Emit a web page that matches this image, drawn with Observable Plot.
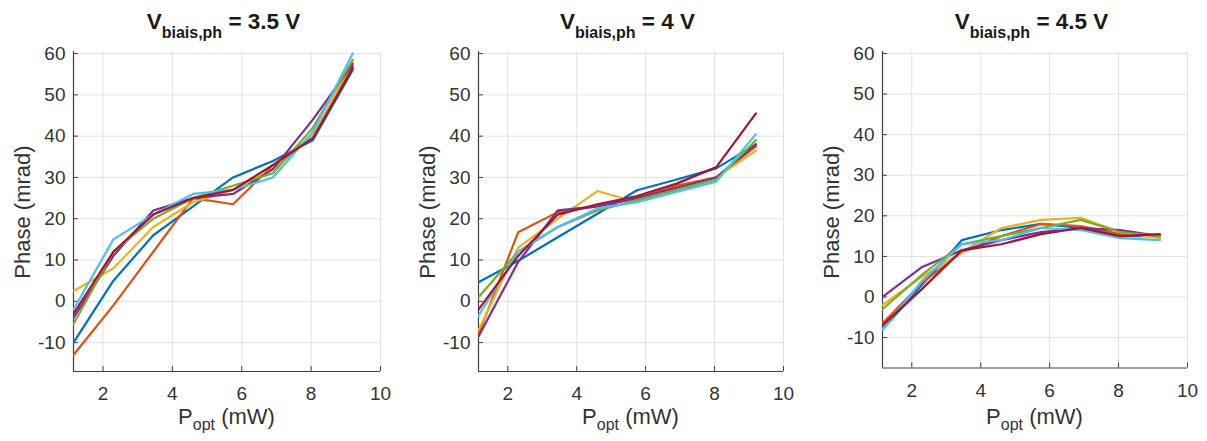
<!DOCTYPE html>
<html>
<head>
<meta charset="utf-8">
<script src="https://cdn.jsdelivr.net/npm/d3@7"></script>
<script src="https://cdn.jsdelivr.net/npm/@observablehq/plot@0.6"></script>
<style>
  html, body { margin: 0; padding: 0; background: #fff; }
  #root { position: relative; width: 1207px; height: 441px; overflow: hidden; font-family: "Liberation Sans", Arial, sans-serif; color: #262626; }
  .panel { position: absolute; top: 0; }
  .title { position: absolute; font-weight: bold; font-size: 22.5px; white-space: nowrap; color: #1a1a1a; transform: translateX(-50%); }
  .title sub { font-size: 16px; vertical-align: -9px; line-height: 0; }
  .ylab { position: absolute; font-size: 22px; white-space: nowrap; color: #333; transform: translate(-50%, -50%) rotate(-90deg); }
  .xlab { position: absolute; font-size: 22px; line-height: 24px; white-space: nowrap; color: #333; transform: translateX(-50%); }
  .xlab sub { font-size: 16px; vertical-align: -6px; line-height: 0; }
</style>
</head>
<body>
<div id="root"></div>
<script>
// ---- data ----
const powerMW = [1.15, 2.3, 3.45, 4.6, 5.75, 6.9, 8.05, 9.2];
const seriesColors = ["#0072BD", "#D95319", "#EDB120", "#7E2F8E", "#77AC30", "#4DBEEE", "#A2142F"];
const panelTitles = ["3.5 V", "4 V", "4.5 V"];
const xTicks = [2, 4, 6, 8, 10];
const yTicks = [-10, 0, 10, 20, 30, 40, 50, 60];

const phase35 = [
  [-10, 5, 16, 23, 30, 34, 39, 56],
  [-13, -1, 12, 25, 23.5, 33, 40, 57],
  [2.5, 8, 18, 24, 27, 32, 40, 58],
  [-4, 11, 22, 25, 26, 32, 44, 57.5],
  [-5.5, 12, 20, 25, 28, 31, 42, 58.5],
  [-2, 15, 21, 26, 27, 30, 41, 60],
  [-3, 12, 21, 25, 27, 33, 39.5, 56.5]
];
const phase40 = [
  [4.6, 9.8, 15.5, 21.2, 26.9, 29.5, 32.2, 38],
  [-8, 16.7, 21.6, 23, 25, 28, 30, 37.5],
  [-7, 13, 20, 26.7, 24, 27.5, 30, 36.5],
  [-8.5, 9.5, 22, 23, 25, 27.5, 30, 38],
  [1, 12, 18, 22, 24.5, 27, 29.5, 39],
  [-3.5, 12, 18, 22.5, 24, 26.5, 29, 40.5],
  [-2, 11, 21, 23.5, 25.5, 28.5, 32.5, 45.5]
];
const phase45 = [
  [-8, 3, 14, 16.5, 18, 17, 15, 15],
  [-6.5, 3.5, 11, 15, 18, 17.5, 15.5, 15],
  [-2, 5, 11, 17, 19, 19.5, 16, 14.5],
  [0, 7.4, 11.5, 14, 16, 17, 16.5, 15],
  [-3, 5.5, 13, 15, 17, 19, 16, 15],
  [-8, 4, 13, 14, 17, 16.5, 14.5, 14],
  [-7, 2, 11.5, 13, 15.5, 17, 15, 15.5]
];

// ---- layout per panel ----
const panels = [
  {data: phase35, left: 0, width: 400, ml: 73, mr: 20, mt: 51, mb: 70, yDomain: [-17, 60.5]},
  {data: phase40, left: 400, width: 400, ml: 78, mr: 17, mt: 51, mb: 70, yDomain: [-17, 60.5]},
  {data: phase45, left: 800, width: 407, ml: 82, mr: 20, mt: 51, mb: 73.5, yDomain: [-17.5, 60.5]}
];

const root = document.getElementById("root");
const fmt = d => String(d);

panels.forEach((p, k) => {
  const rows = [];
  p.data.forEach((vals, s) => vals.forEach((v, j) => rows.push({x: powerMW[j], y: v, s})));
  const xDomain = [powerMW[0], 10];
  const chart = Plot.plot({
    width: p.width,
    height: 441,
    marginLeft: p.ml,
    marginRight: p.mr,
    marginTop: p.mt,
    marginBottom: p.mb,
    style: {fontSize: "19px", fontFamily: "Liberation Sans, Arial, sans-serif", color: "#333", background: "transparent", overflow: "visible"},
    x: {domain: xDomain},
    y: {domain: p.yDomain},
    color: {domain: d3.range(seriesColors.length), range: seriesColors},
    marks: [
      Plot.gridX(xTicks, {stroke: "#e2e2e2", strokeOpacity: 1, strokeWidth: 1}),
      Plot.gridY(yTicks, {stroke: "#e2e2e2", strokeOpacity: 1, strokeWidth: 1}),
      Plot.axisX(xTicks, {tickSize: -5, tickPadding: 20, tickFormat: fmt, label: null, stroke: "#404040", fill: "#333"}),
      Plot.axisY(yTicks, {tickSize: -5, tickPadding: 13, tickFormat: fmt, label: null, stroke: "#404040", fill: "#333"}),
      Plot.ruleX([xDomain[0]], {stroke: "#404040", strokeWidth: 1.2}),
      Plot.ruleY([p.yDomain[0]], {stroke: "#404040", strokeWidth: 1.2}),
      Plot.line(rows, {x: "x", y: "y", z: "s", stroke: "s", strokeWidth: 2.2, clip: true})
    ]
  });
  const div = document.createElement("div");
  div.className = "panel";
  div.style.left = p.left + "px";
  div.appendChild(chart);
  root.appendChild(div);

  const cx = p.left + p.ml + (p.width - p.ml - p.mr) / 2;
  const t = document.createElement("div");
  t.className = "title";
  t.style.left = (cx - 3) + "px";
  t.style.top = "9px";
  t.innerHTML = "V<sub>biais,ph</sub> = " + panelTitles[k];
  root.appendChild(t);

  const yl = document.createElement("div");
  yl.className = "ylab";
  yl.style.left = (p.left + p.ml - 50) + "px";
  yl.style.top = "212px";
  yl.textContent = "Phase (mrad)";
  root.appendChild(yl);

  const xl = document.createElement("div");
  xl.className = "xlab";
  xl.style.left = cx + "px";
  xl.style.top = "405px";
  xl.innerHTML = "P<sub>opt</sub> (mW)";
  root.appendChild(xl);
});
</script>
</body>
</html>
